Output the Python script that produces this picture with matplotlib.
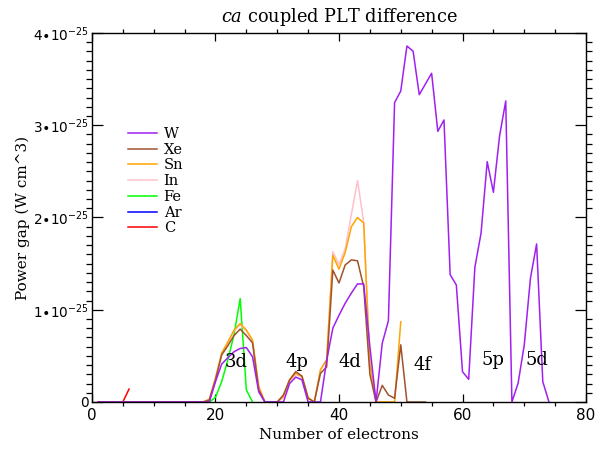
"""Power gap between ca-coupled PLT calculations, per element, vs electron count."""

import matplotlib
matplotlib.use("Agg")
import matplotlib.pyplot as plt
from matplotlib.ticker import MultipleLocator, FixedLocator, FuncFormatter

# power gap values in units of 1e-25 W cm^3, index 0 = 1 electron
W = [0.0] * 19 + [
    0.22, 0.41, 0.48, 0.545, 0.58, 0.59, 0.49, 0.11, 0.0,           # 20-28
    0.0, 0.0, 0.0, 0.20, 0.27, 0.24, 0.0, 0.0, 0.0,                 # 29-37
    0.45, 0.80, 0.94, 1.07, 1.18, 1.28, 1.28, 0.60, 0.0,            # 38-46
    0.636, 0.881, 3.245, 3.371, 3.859, 3.802, 3.331, 3.448, 3.563,  # 47-55
    2.934, 3.057, 1.380, 1.268, 0.328, 0.246, 1.460, 1.829, 2.605,  # 56-64
    2.273, 2.883, 3.263, 0.0, 0.203, 0.618, 1.341, 1.713, 0.220,    # 65-73
    0.0,                                                            # 74
]
XE = [0.0] * 18 + [
    0.02, 0.24, 0.51, 0.61, 0.72, 0.79, 0.72, 0.64, 0.13,           # 19-27
    0.0, 0.0, 0.0, 0.076, 0.24, 0.33, 0.28, 0.04, 0.0,              # 28-36
    0.31, 0.38, 1.43, 1.29, 1.485, 1.54, 1.53, 1.25, 0.30,          # 37-45
    0.0, 0.18, 0.076, 0.04, 0.62, 0.0, 0.0, 0.0, 0.0,               # 46-54
]
SN = [0.0] * 18 + [
    0.03, 0.26, 0.53, 0.65, 0.78, 0.85, 0.78, 0.67, 0.17,           # 19-27
    0.0, 0.0, 0.0, 0.06, 0.24, 0.31, 0.28, 0.05, 0.0,               # 28-36
    0.35, 0.455, 1.59, 1.44, 1.62, 1.90, 2.00, 1.94, 0.42,          # 37-45
    0.0, 0.0, 0.0, 0.0, 0.87,                                       # 46-50
]
IN = [0.0] * 18 + [
    0.03, 0.25, 0.52, 0.64, 0.77, 0.84, 0.77, 0.66, 0.16,           # 19-27
    0.0, 0.0, 0.0, 0.05, 0.23, 0.30, 0.27, 0.04, 0.0,               # 28-36
    0.35, 0.46, 1.63, 1.49, 1.66, 2.03, 2.40, 1.95, 0.45,           # 37-45
    0.0, 0.0, 0.0, 0.0,                                             # 46-49
]
FE = [0.0] * 19 + [0.05, 0.22, 0.455, 0.73, 1.12, 0.13, 0.0]
AR = [0.0] * 18
C = [0.0, 0.0, 0.0, 0.0, 0.0, 0.14]

ELEMENTS = ["W", "Xe", "Sn", "In", "Fe", "Ar", "C"]
SERIES = [W, XE, SN, IN, FE, AR, C]
COLORS = ["#A020F0", "#A0522D", "#FFA500", "#FFC0CB", "#00FF00", "#0000FF", "#FF0000"]

# shell labels and where they sit (electrons, 1e-25 units)
SHELLS = ["3d", "4p", "4d", "4f", "5p", "5d"]
SHELL_X = [23.3, 33.2, 41.8, 53.6, 64.9, 72.1]
SHELL_Y = [0.43, 0.43, 0.43, 0.40, 0.46, 0.46]

Y_TICKS = [0, 1, 2, 3, 4]
SCALE = 1e-25
SERIF = "DejaVu Serif"


def sci(v, _pos):
    n = round(v / SCALE)
    return "0" if n == 0 else rf"${n}{{\bullet}}10^{{-25}}$"


def plot(out="out.png"):
    fig = plt.figure(figsize=(6.0, 4.53), dpi=100)
    ax = fig.add_axes([0.1533, 0.1126, 0.8234, 0.8146])

    # draw C first so W ends up on top
    for name, vals, col in reversed(list(zip(ELEMENTS, SERIES, COLORS))):
        n = list(range(1, len(vals) + 1))
        ax.plot(n, [v * SCALE for v in vals], color=col, lw=1.1, label=name)

    for s, x, y in zip(SHELLS, SHELL_X, SHELL_Y):
        ax.text(x, y * SCALE, s, ha="center", va="center", family=SERIF, fontsize=13)

    ax.set_xlim(0, 80)
    ax.set_ylim(0, 4 * SCALE)
    ax.xaxis.set_major_locator(FixedLocator([0, 20, 40, 60, 80]))
    ax.xaxis.set_minor_locator(MultipleLocator(5))
    ax.yaxis.set_major_locator(FixedLocator([t * SCALE for t in Y_TICKS]))
    ax.yaxis.set_minor_locator(MultipleLocator(0.1 * SCALE))
    ax.yaxis.set_major_formatter(FuncFormatter(sci))
    ax.tick_params(direction="in", top=True, right=True, width=0.9)
    ax.tick_params(axis="x", which="major", length=6, pad=4, labelsize=11)
    ax.tick_params(axis="x", which="minor", length=3, width=0.9, top=True)
    ax.tick_params(axis="y", which="major", length=8, pad=2, labelsize=9.8)
    ax.tick_params(axis="y", which="minor", length=4.5, width=0.9, right=True)
    for sp in ax.spines.values():
        sp.set_linewidth(1.0)

    ax.set_xlabel("Number of electrons", family=SERIF, fontsize=11)
    ax.set_ylabel("Power gap (W cm^3)", family=SERIF, fontsize=11, labelpad=2.5)
    ax.set_title(r"$\mathit{ca}$ coupled PLT difference", family=SERIF, fontsize=12.8,
                 pad=8, math_fontfamily="dejavuserif")

    handles, labels = ax.get_legend_handles_labels()
    ax.legend(handles[::-1], labels[::-1], loc="upper left", bbox_to_anchor=(0.058, 0.765),
              frameon=False, prop={"family": SERIF, "size": 10.5},
              handlelength=2.0, handletextpad=0.45, labelspacing=0.12, borderpad=0)

    fig.savefig(out, dpi=100)
    plt.close(fig)
    return out


if __name__ == "__main__":
    print("saved chart ->", plot())
